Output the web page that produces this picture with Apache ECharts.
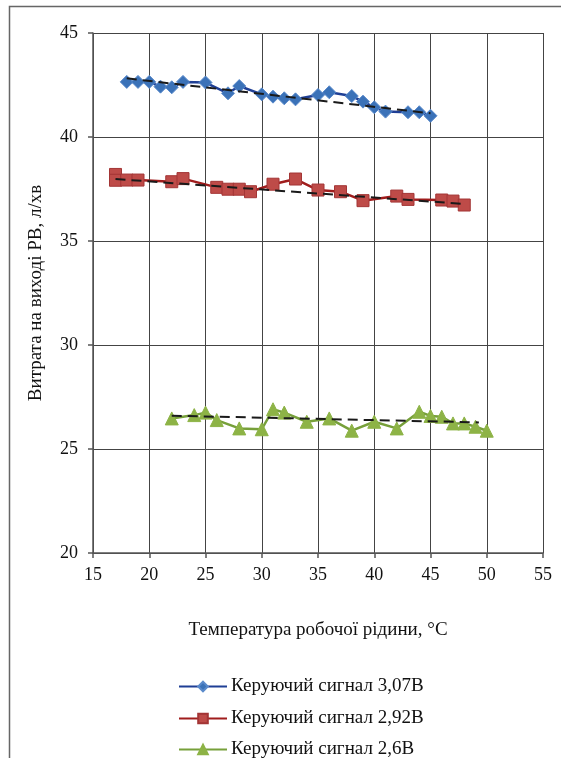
<!DOCTYPE html>
<html>
<head>
<meta charset="utf-8">
<script src="https://cdn.jsdelivr.net/npm/echarts@6/dist/echarts.min.js"></script>
<style>
html,body{margin:0;padding:0;background:#fff;}
#chart{width:561px;height:758px;}
</style>
</head>
<body>
<div id="chart"></div>
<script>
// ---- data ----
var seriesNames = ['Керуючий сигнал 3,07В', 'Керуючий сигнал 2,92В', 'Керуючий сигнал 2,6В'];
var xTicks = [15, 20, 25, 30, 35, 40, 45, 50, 55];
var yTicks = [20, 25, 30, 35, 40, 45];

var blueX = [18, 19, 20, 21, 22, 23, 25, 27, 28, 30, 31, 32, 33, 35, 36, 38, 39, 40, 41, 43, 44, 45];
var blueY = [42.65, 42.65, 42.65, 42.42, 42.39, 42.65, 42.62, 42.1, 42.45, 42.05, 41.94, 41.86, 41.81, 42.02, 42.15, 41.97, 41.7, 41.43, 41.22, 41.19, 41.19, 41.02];

var redX = [17, 17, 18, 19, 22, 23, 26, 27, 28, 29, 31, 33, 35, 37, 39, 42, 43, 46, 47, 48];
var redY = [38.2, 37.92, 37.93, 37.93, 37.85, 38.0, 37.58, 37.49, 37.49, 37.37, 37.73, 37.98, 37.45, 37.37, 36.94, 37.16, 37.0, 36.97, 36.92, 36.73];

var greenX = [22, 24, 25, 26, 28, 30, 31, 32, 34, 36, 38, 40, 42, 44, 45, 46, 47, 48, 49, 50];
var greenY = [26.47, 26.63, 26.75, 26.39, 25.99, 25.95, 26.91, 26.75, 26.31, 26.47, 25.88, 26.31, 25.99, 26.79, 26.59, 26.55, 26.23, 26.23, 26.07, 25.88];

// trend line end points
var blueTrendX = [18, 45];
var blueTrendY = [42.82, 41.14];
var redTrendX = [17, 48];
var redTrendY = [37.98, 36.78];
var greenTrendX = [22, 49.3];
var greenTrendY = [26.6, 26.28];

function zip(xs, ys) { return xs.map(function (x, i) { return [x, ys[i]]; }); }

var font = 'Liberation Serif';
var chart = echarts.init(document.getElementById('chart'), null, { renderer: 'canvas' });

function trend(xs, ys) {
  return {
    type: 'line', data: zip(xs, ys), symbol: 'none', silent: true, z: 5,
    lineStyle: { color: '#1a1a1a', width: 2, type: [10, 6] }
  };
}

var legendTops = [677, 709, 740];
function legendFor(i) {
  return {
    orient: 'horizontal', left: 178, top: legendTops[i], padding: 0,
    itemWidth: 48, itemHeight: 12, data: [seriesNames[i]],
    textStyle: { fontFamily: font, fontSize: 19, color: '#111', padding: [0, 0, 0, -1] }
  };
}

chart.setOption({
  animation: false,
  backgroundColor: '#fff',
  grid: { left: 93, top: 33, right: 18, bottom: 205, containLabel: false, outerBoundsMode: 'none' },
  xAxis: {
    type: 'value', min: 15, max: 55, interval: 5,
    name: 'Температура робочої рідини, °C', nameLocation: 'middle', nameGap: 68,
    nameTextStyle: { fontFamily: font, fontSize: 19, color: '#111' },
    axisLine: { show: true, lineStyle: { color: '#555', width: 1.5 } },
    axisTick: { show: true, length: 5, lineStyle: { color: '#555', width: 1.5 } },
    axisLabel: { fontFamily: font, fontSize: 18, color: '#111', margin: 13,
      formatter: function (v) { return xTicks.indexOf(v) >= 0 ? String(v) : ''; } },
    splitLine: { show: true, lineStyle: { color: '#444', width: 1 } }
  },
  yAxis: {
    type: 'value', min: 20, max: 45, interval: 5,
    name: 'Витрата на виході РВ, л/хв', nameLocation: 'middle', nameGap: 47, nameRotate: 90,
    nameTextStyle: { fontFamily: font, fontSize: 19, color: '#111' },
    axisLine: { show: true, lineStyle: { color: '#555', width: 1.5 } },
    axisTick: { show: true, length: 5, lineStyle: { color: '#555', width: 1.5 } },
    axisLabel: { fontFamily: font, fontSize: 18, color: '#111', margin: 15,
      formatter: function (v) { return yTicks.indexOf(v) >= 0 ? String(v) : ''; } },
    splitLine: { show: true, lineStyle: { color: '#444', width: 1 } }
  },
  legend: [legendFor(0), legendFor(1), legendFor(2)],
  graphic: [{
    type: 'polyline', silent: true,
    shape: { points: [[9.5, 758], [9.5, 6.5], [561, 6.5]] },
    style: { stroke: '#666', lineWidth: 1.5, fill: null }
  }],
  series: [
    {
      name: seriesNames[0], type: 'line', data: zip(blueX, blueY), z: 3,
      symbol: 'diamond', symbolSize: 13,
      lineStyle: { color: '#1f3f95', width: 2.5 },
      itemStyle: { color: '#3b72b8', borderColor: '#5a8acb', borderWidth: 1 }
    },
    {
      name: seriesNames[1], type: 'line', data: zip(redX, redY), z: 3,
      symbol: 'rect', symbolSize: 12,
      lineStyle: { color: '#a01c1c', width: 2.5 },
      itemStyle: { color: '#be4b48', borderColor: '#a33535', borderWidth: 1 }
    },
    {
      name: seriesNames[2], type: 'line', data: zip(greenX, greenY), z: 3,
      symbol: 'triangle', symbolSize: 13,
      lineStyle: { color: '#77a03a', width: 2.5 },
      itemStyle: { color: '#8db346', borderColor: '#8db346', borderWidth: 1 }
    },
    trend(blueTrendX, blueTrendY),
    trend(redTrendX, redTrendY),
    trend(greenTrendX, greenTrendY)
  ]
});
</script>
</body>
</html>
